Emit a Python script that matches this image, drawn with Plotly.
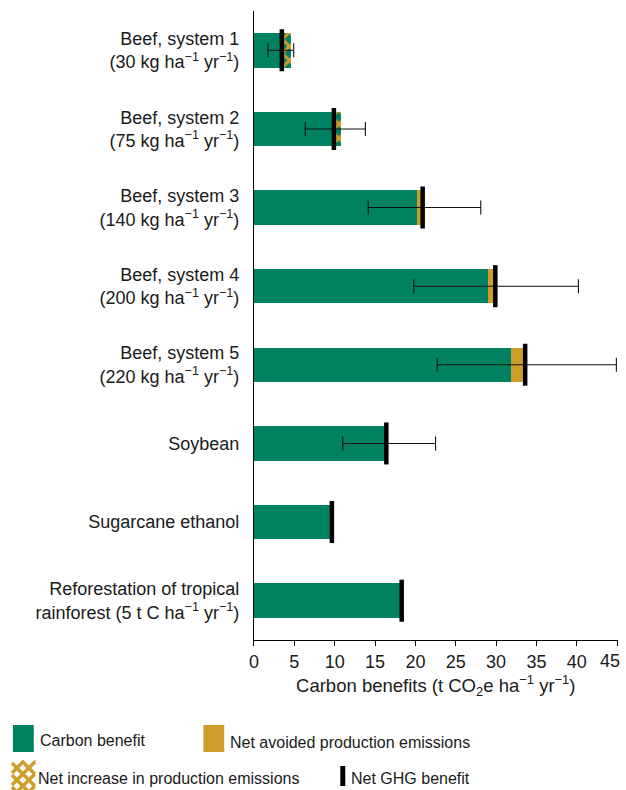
import plotly.graph_objects as go

# ---- data -----------------------------------------------------------------
labels = [
    "Beef, system 1<br>(30 kg ha<sup>\u22121</sup> yr<sup>\u22121</sup>)",
    "Beef, system 2<br>(75 kg ha<sup>\u22121</sup> yr<sup>\u22121</sup>)",
    "Beef, system 3<br>(140 kg ha<sup>\u22121</sup> yr<sup>\u22121</sup>)",
    "Beef, system 4<br>(200 kg ha<sup>\u22121</sup> yr<sup>\u22121</sup>)",
    "Beef, system 5<br>(220 kg ha<sup>\u22121</sup> yr<sup>\u22121</sup>)",
    "Soybean",
    "Sugarcane ethanol",
    "Reforestation of tropical<br>rainforest (5 t C ha<sup>\u22121</sup> yr<sup>\u22121</sup>)",
]
# carbon benefit of each land use (t CO2e per ha per yr)
carbon_benefit = [4.55, 10.8, 20.2, 29.05, 31.9, 16.4, 9.65, 18.3]
# production emissions: positive = net avoided, negative = net increase
production_change = [-1.1, -0.9, 0.7, 0.85, 1.7, 0.0, 0.0, 0.0]
# uncertainty range of the net GHG benefit (None where not reported)
ci_low = [1.72, 6.35, 14.15, 19.8, 22.7, 11.0, None, None]
ci_high = [4.92, 13.8, 28.1, 40.2, 44.9, 22.5, None, None]

x_ticks = [0, 5, 10, 15, 20, 25, 30, 35, 40, 45]

# ---- style ----------------------------------------------------------------
GREEN = "#008262"
GOLD = "#CF9D2A"
TEXT = "#1a1a1a"
FONT = "Liberation Sans, Arial, sans-serif"
W, H = 626, 790


def px(x):
    return x / W


def py(y):
    return 1 - y / H


net = [c + d for c, d in zip(carbon_benefit, production_change)]
green_part = [min(c, n) for c, n in zip(carbon_benefit, net)]
increase_part = [max(-d, 0) for d in production_change]
avoided_part = [max(d, 0) for d in production_change]
pos = list(range(len(labels)))
BAR_W = 0.44

fig = go.Figure()
fig.add_trace(go.Bar(
    y=pos, x=green_part, orientation="h", width=BAR_W,
    marker=dict(color=GREEN, line=dict(width=0)), showlegend=False,
))
fig.add_trace(go.Bar(
    y=pos, x=increase_part, orientation="h", width=BAR_W,
    marker=dict(color=GREEN, line=dict(width=0),
                pattern=dict(shape="x", fgcolor=GOLD, bgcolor=GREEN,
                             size=10, solidity=0.5, fillmode="replace")),
    showlegend=False,
))
fig.add_trace(go.Bar(
    y=pos, x=avoided_part, orientation="h", width=BAR_W,
    marker=dict(color=GOLD, line=dict(width=0)), showlegend=False,
))

# uncertainty whiskers around the net benefit
idx = [i for i in pos if ci_low[i] is not None]
fig.add_trace(go.Scatter(
    y=[pos[i] for i in idx], x=[net[i] for i in idx], mode="markers",
    marker=dict(size=1, opacity=0),
    error_x=dict(type="data", symmetric=False,
                 array=[ci_high[i] - net[i] for i in idx],
                 arrayminus=[net[i] - ci_low[i] for i in idx],
                 color="#111111", thickness=1.1, width=7),
    showlegend=False, hoverinfo="skip",
))

# net GHG benefit markers
fig.add_trace(go.Scatter(
    y=pos, x=net, mode="markers",
    marker=dict(symbol="line-ns", size=30, color="black",
                line=dict(width=4.5, color="black")),
    showlegend=False,
))

# the last tick label sits against the right edge, so it is placed separately
tick_text = [str(t) for t in x_ticks[:-1]] + [""]

fig.update_layout(
    width=W, height=H,
    margin=dict(l=0, r=0, t=0, b=0),
    paper_bgcolor="white", plot_bgcolor="white",
    barmode="stack",
    font=dict(family=FONT, color=TEXT, size=18),
    xaxis=dict(
        domain=[px(251), px(617.5)], range=[0, 45.05],
        tickvals=x_ticks, ticktext=tick_text,
        ticks="outside", ticklen=5, tickcolor="black", tickwidth=1,
        showline=True, linecolor="black", linewidth=1.2,
        showgrid=False, zeroline=False,
        tickfont=dict(size=18, family=FONT, color=TEXT),
        title=dict(text="Carbon benefits (t CO<sub>2</sub>e ha<sup>\u22121</sup> yr<sup>\u22121</sup>)",
                   font=dict(size=18.5, family=FONT, color=TEXT), standoff=8),
    ),
    yaxis=dict(
        domain=[py(640), py(11)], range=[7.5, -0.5],
        tickvals=pos, ticktext=labels,
        ticks="", showline=True, linecolor="black", linewidth=1.2,
        showgrid=False, zeroline=False, ticklabelstandoff=10,
        tickfont=dict(size=18, family=FONT, color=TEXT),
    ),
)

# ---- legend (drawn below the axes) ---------------------------------------
shapes = []
annotations = [dict(xref="x", yref="paper", x=x_ticks[-1], y=py(661),
                    xanchor="center", yanchor="middle", xshift=-7,
                    showarrow=False, text=str(x_ticks[-1]),
                    font=dict(size=18, family=FONT, color=TEXT))]


def rect(x0, y0, x1, y1, color):
    shapes.append(dict(type="rect", xref="paper", yref="paper",
                       x0=px(x0), x1=px(x1), y0=py(y1), y1=py(y0),
                       fillcolor=color, line=dict(width=0)))


def label(x, y, text):
    annotations.append(dict(xref="paper", yref="paper", x=px(x), y=py(y),
                            xanchor="left", yanchor="middle", showarrow=False,
                            text=text, font=dict(size=16, family=FONT, color=TEXT)))


rect(8, 725, 29, 752, GREEN)
label(33, 740, "Carbon benefit")
rect(200, 725, 221, 752, GOLD)
label(225, 742, "Net avoided production emissions")
rect(338, 766, 343, 786, "black")
label(347, 778, "Net GHG benefit")
label(31, 778, "Net increase in production emissions")

# cross-hatched swatch
bx0, bx1, by0, by1 = 7, 30, 761, 794
step = 12
for c in range(-60, 900, step):
    # lines y = x + c
    xa, xb = max(bx0, by0 - c), min(bx1, by1 - c)
    if xb > xa:
        shapes.append(dict(type="line", xref="paper", yref="paper",
                           x0=px(xa), y0=py(xa + c), x1=px(xb), y1=py(xb + c),
                           line=dict(color=GOLD, width=3.5)))
    # lines y = -x + c
    xa, xb = max(bx0, c - by1), min(bx1, c - by0)
    if xb > xa:
        shapes.append(dict(type="line", xref="paper", yref="paper",
                           x0=px(xa), y0=py(c - xa), x1=px(xb), y1=py(c - xb),
                           line=dict(color=GOLD, width=3.5)))

fig.update_layout(shapes=shapes, annotations=annotations)

fig.write_html("out.html")
